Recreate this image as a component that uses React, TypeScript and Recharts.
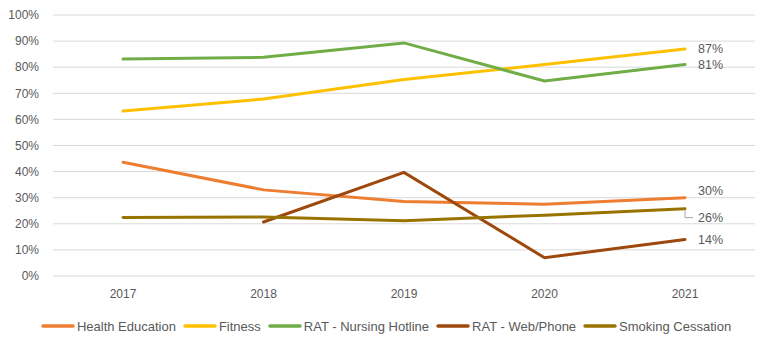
import React from "react";
import { LineChart, Line, XAxis, YAxis, CartesianGrid, Legend, LabelList } from "recharts";

const years = ["2017", "2018", "2019", "2020", "2021"];
const healthEducation = [43.6, 33, 28.5, 27.5, 30];
const fitness = [63.2, 67.8, 75.3, 81, 87];
const nursingHotline = [83.1, 83.8, 89.3, 74.7, 81];
const webPhone: (number | null)[] = [null, 20.7, 39.7, 7, 14];
const smokingCessation = [22.4, 22.6, 21.2, 23.3, 25.8];
const yTicks = [0, 10, 20, 30, 40, 50, 60, 70, 80, 90, 100];

const seriesMeta = [
  { key: "he", name: "Health Education", color: "#ED7D31", values: healthEducation, dx: 13, dy: -7, leader: false },
  { key: "fi", name: "Fitness", color: "#FFC000", values: fitness, dx: 13, dy: 0, leader: false },
  { key: "nh", name: "RAT - Nursing Hotline", color: "#70AD47", values: nursingHotline, dx: 13, dy: 0, leader: false },
  { key: "wp", name: "RAT - Web/Phone", color: "#9E480E", values: webPhone, dx: 13, dy: 0, leader: false },
  { key: "sc", name: "Smoking Cessation", color: "#997300", values: smokingCessation, dx: 13, dy: 9, leader: true },
];

const data = years.map((y, i) => {
  const row: Record<string, any> = { year: y };
  seriesMeta.forEach((s) => {
    row[s.key] = s.values[i];
  });
  return row;
});

const FONT = "'Liberation Sans', Arial, sans-serif";

const makeLabel = (dx: number, dy: number, leader: boolean) => (p: any) => {
  if (p.index !== years.length - 1 || p.value == null) return null;
  const x = Number(p.x);
  const y = Number(p.y);
  return (
    <g>
      {leader && (
        <polyline
          points={`${x},${y + 2} ${x},${y + dy} ${x + dx - 5},${y + dy}`}
          fill="none"
          stroke="#A6A6A6"
          strokeWidth={1}
        />
      )}
      <text x={x + dx} y={y + dy} dy="0.35em" fill="#595959" fontSize={12.5} fontFamily={FONT}>
        {`${Math.round(p.value)}%`}
      </text>
    </g>
  );
};

const renderLegend = () => (
  <div
    style={{
      display: "flex",
      justifyContent: "center",
      alignItems: "center",
      height: 36,
      width: 772,
      fontFamily: FONT,
      fontSize: 13,
      color: "#595959",
    }}
  >
    {seriesMeta.map((s, i) => (
      <div
        key={s.key}
        style={{ display: "flex", alignItems: "center", marginRight: i === seriesMeta.length - 1 ? 0 : 7 }}
      >
        <svg width={34} height={10} style={{ marginRight: 2 }}>
          <line x1={2} y1={5} x2={32} y2={5} stroke={s.color} strokeWidth={3.5} strokeLinecap="round" />
        </svg>
        <span>{s.name}</span>
      </div>
    ))}
  </div>
);

export default function App() {
  return (
    <div style={{ position: "absolute", left: 0, top: 0, width: 772, height: 350, background: "#fff" }}>
      <LineChart width={772} height={350} data={data} margin={{ top: 15, right: 17, left: 0, bottom: 6 }}>
        <CartesianGrid vertical={false} stroke="#D9D9D9" strokeWidth={1} />
        <XAxis
          dataKey="year"
          axisLine={false}
          tickLine={false}
          height={32}
          tickMargin={7}
          padding={{ left: 70, right: 70 }}
          tick={{ fill: "#595959", fontSize: 12, fontFamily: FONT }}
        />
        <YAxis
          domain={[0, 100]}
          ticks={yTicks}
          width={53}
          axisLine={false}
          tickLine={false}
          tickMargin={8}
          interval={0}
          tickFormatter={(v: number) => `${v}%`}
          tick={{ fill: "#595959", fontSize: 12, fontFamily: FONT }}
        />
        <Legend
          verticalAlign="bottom"
          height={36}
          content={renderLegend}
          wrapperStyle={{ left: 0, width: 772 }}
        />
        {seriesMeta.map((s) => (
          <Line
            key={s.key}
            type="linear"
            dataKey={s.key}
            name={s.name}
            stroke={s.color}
            strokeWidth={3}
            strokeLinecap="round"
            dot={false}
            activeDot={false}
            isAnimationActive={false}
            connectNulls={false}
          >
            <LabelList dataKey={s.key} content={makeLabel(s.dx, s.dy, s.leader)} />
          </Line>
        ))}
      </LineChart>
    </div>
  );
}
